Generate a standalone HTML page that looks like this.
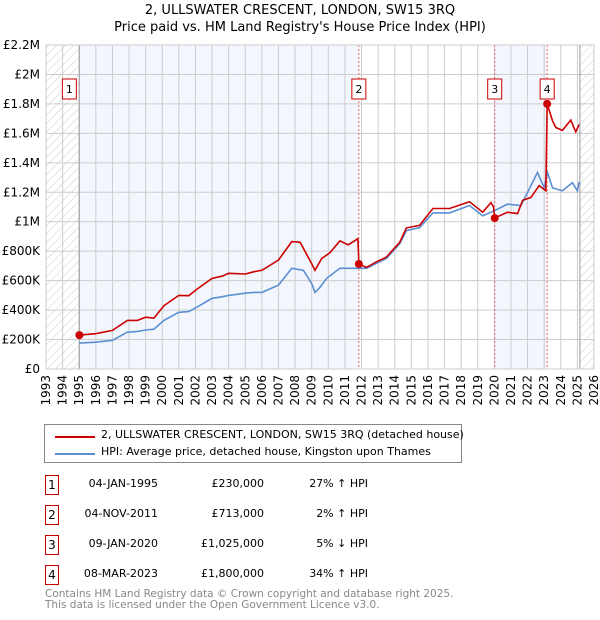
<!DOCTYPE html>
<html><head><meta charset="utf-8"><style>
body{margin:0;background:#fff;font-family:"DejaVu Sans","Liberation Sans",sans-serif;}
#wrap{position:relative;width:600px;height:620px;overflow:hidden}
.t{position:absolute;white-space:nowrap;font-size:12px;color:#000}
.box{position:absolute;border:1px solid #c00;width:12px;height:18px;text-align:center;line-height:18px;font-size:12px;background:#fff}
</style></head><body><div id="wrap">
<div class="t" style="left:0;width:600px;text-align:center;top:3px;font-size:13px">2, ULLSWATER CRESCENT, LONDON, SW15 3RQ</div>
<div class="t" style="left:0;width:600px;text-align:center;top:20px;font-size:13px">Price paid vs. HM Land Registry's House Price Index (HPI)</div>
<svg id="svg" width="600" height="420" style="position:absolute;left:0;top:0">
<defs><pattern id="hatch" width="6" height="6" patternUnits="userSpaceOnUse" patternTransform="rotate(45)"><line x1="0" y1="0" x2="0" y2="6" stroke="#ccc" stroke-width="1"/></pattern></defs>
</svg>
<div style="position:absolute;left:44px;top:424px;width:416px;height:37px;border:1px solid #888">
<div style="position:absolute;left:10px;top:11px;width:40px;height:2px;background:#c00"></div>
<div class="t" style="left:56px;top:3px;font-size:11px">2, ULLSWATER CRESCENT, LONDON, SW15 3RQ (detached house)</div>
<div style="position:absolute;left:10px;top:28px;width:40px;height:2px;background:#5b8fd4"></div>
<div class="t" style="left:56px;top:20px;font-size:11px">HPI: Average price, detached house, Kingston upon Thames</div>
</div>
<div id="tbl"></div>
<div class="t" style="left:45px;top:589px;font-size:10.5px;color:#888;line-height:10.5px">Contains HM Land Registry data © Crown copyright and database right 2025.<br>This data is licensed under the Open Government Licence v3.0.</div>
</div>
<script>
const yTicks=[0,200,400,600,800,1000,1200,1400,1600,1800,2000,2200];
const yTickLabels=["£0","£200K","£400K","£600K","£800K","£1M","£1.2M","£1.4M","£1.6M","£1.8M","£2M","£2.2M"];
const years=[1993,1994,1995,1996,1997,1998,1999,2000,2001,2002,2003,2004,2005,2006,2007,2008,2009,2010,2011,2012,2013,2014,2015,2016,2017,2018,2019,2020,2021,2022,2023,2024,2025,2026];
const hpiT=[1995,1996,1997,1997.9,1998.5,1999,1999.5,2000.1,2001,2001.6,2002,2003,2003.6,2004,2005,2005.5,2006,2007,2007.8,2008.5,2009,2009.2,2009.5,2009.9,2010.7,2011.8,2012.3,2013.5,2014.3,2014.7,2015.5,2016.3,2017.3,2018.5,2019.3,2020,2020.8,2021.6,2022,2022.6,2023,2023.2,2023.5,2024.1,2024.7,2025,2025.1];
const hpiV=[176,182,195,250,255,265,270,330,385,390,415,480,490,500,515,520,520,570,684,670,580,520,555,615,684,684,684,750,850,940,960,1060,1060,1110,1040,1075,1120,1110,1200,1335,1230,1335,1230,1210,1265,1210,1270];
const redT=[1995.01,1996,1997,1997.9,1998.5,1999,1999.5,2000.1,2001,2001.6,2002,2003,2003.6,2004,2005,2005.5,2006,2007,2007.8,2008.3,2009,2009.2,2009.6,2010.1,2010.7,2011.2,2011.78,2011.84,2012.3,2012.9,2013.5,2014.3,2014.7,2015.5,2016.3,2017.3,2018.5,2019.3,2019.8,2019.95,2020.02,2020.8,2021.4,2021.7,2022.2,2022.7,2023.1,2023.18,2023.5,2023.7,2024.1,2024.6,2024.9,2025.1];
const redV=[230,240,262,330,330,352,345,430,500,498,535,615,630,650,645,660,670,740,865,860,715,670,750,790,870,843,885,713,690,728,760,860,958,975,1090,1090,1135,1065,1130,1100,1025,1065,1055,1145,1165,1245,1210,1800,1685,1640,1620,1690,1610,1660];
const sales=[{t:1995.01,v:230,n:"1",d:"04-JAN-1995",p:"£230,000",h:"27% ↑ HPI"},{t:2011.84,v:713,n:"2",d:"04-NOV-2011",p:"£713,000",h:"2% ↑ HPI"},{t:2020.02,v:1025,n:"3",d:"09-JAN-2020",p:"£1,025,000",h:"5% ↓ HPI"},{t:2023.18,v:1800,n:"4",d:"08-MAR-2023",p:"£1,800,000",h:"34% ↑ HPI"}];
</script>
<script>
const X0=46,X1=594,Y0=369,Y1=45;
const xs=t=>X0+(t-1993)*(X1-X0)/33;
const ys=v=>Y0-v*(Y0-Y1)/2200;
const svg=document.getElementById('svg');
const NS='http://www.w3.org/2000/svg';
function mk(tag,a,name){const e=document.createElementNS(NS,tag);for(const k in a)e.setAttribute(k,a[k]);


svg.appendChild(e);return e;}
mk('rect',{x:X0,y:Y1,width:xs(1995)-X0,height:Y0-Y1,fill:'url(#hatch)'},'hatch-pre-data');
mk('rect',{x:xs(2025.15),y:Y1,width:X1-xs(2025.15),height:Y0-Y1,fill:'url(#hatch)'},'hatch-future');
mk('rect',{x:xs(1995),y:Y1,width:xs(sales[1].t)-xs(1995),height:Y0-Y1,fill:'#f3f6fd'},'shade-period-1');
mk('rect',{x:xs(sales[2].t),y:Y1,width:xs(sales[3].t)-xs(sales[2].t),height:Y0-Y1,fill:'#f3f6fd'},'shade-period-3');
yTicks.forEach((v,i)=>{mk('line',{x1:X0,x2:X1,y1:ys(v),y2:ys(v),stroke:'#ccc'},'y-gridline');
const t=mk('text',{x:X0-6,y:ys(v)+4,'text-anchor':'end','font-size':12,fill:'#000'},'y-tick-label');t.textContent=yTickLabels[i];});
years.forEach(y=>{mk('line',{x1:xs(y),x2:xs(y),y1:Y1,y2:Y0,stroke:'#ccc'},'x-gridline');
const t=mk('text',{x:0,y:0,'text-anchor':'end','font-size':12,fill:'#000',transform:`translate(${xs(y)+4},${Y0+6}) rotate(-90)`},'x-tick-label');t.textContent=y;});
mk('line',{x1:xs(1995),x2:xs(1995),y1:Y1,y2:Y0,stroke:'#999'},'data-start-line');
mk('line',{x1:xs(2025.15),x2:xs(2025.15),y1:Y1,y2:Y0,stroke:'#999'},'data-end-line');
sales.slice(1).forEach(s=>mk('line',{x1:xs(s.t),x2:xs(s.t),y1:Y1,y2:Y0,stroke:'#e66','stroke-dasharray':'2,2'},'sale-marker-line'));
function path(T,V,c,name){const n=Math.min(T.length,V.length);let d='';for(let i=0;i<n;i++)d+=(i?'L':'M')+xs(T[i]).toFixed(1)+','+ys(V[i]).toFixed(1);
mk('path',{d,fill:'none',stroke:c,'stroke-width':1.6},name);}
path(hpiT,hpiV,'#5b8fd4','hpi-line');
path(redT,redV,'#c00','property-price-line');
sales.forEach(s=>{mk('circle',{cx:xs(s.t),cy:ys(s.v),r:4,fill:'#c00'},'sale-point');
const bx=xs(s.t)-(s.n=='1'?17:7);mk('rect',{x:bx,y:79,width:14,height:20,fill:'#fff',stroke:'#c00'},'sale-label-box');
const t=mk('text',{x:bx+7,y:93,'text-anchor':'middle','font-size':11,fill:'#000'},'sale-label');t.textContent=s.n;});
mk('rect',{x:X0,y:Y1,width:X1-X0,height:Y0-Y1,fill:'none',stroke:'#ccc'},'plot-border');
const tbl=document.getElementById('tbl');
sales.forEach((s,i)=>{const y=475+i*30;
const r=document.createElement('div');
r.innerHTML=`<div class="box" style="left:45px;top:${y}px">${s.n}</div>
<div class="t" style="left:60px;width:98px;text-align:right;top:${y+2}px;font-size:11px">${s.d}</div>
<div class="t" style="left:180px;width:84px;text-align:right;top:${y+2}px;font-size:11px">${s.p}</div>
<div class="t" style="left:280px;width:88px;text-align:right;top:${y+2}px;font-size:11px">${s.h}</div>`;
tbl.appendChild(r);});
</script></body></html>
